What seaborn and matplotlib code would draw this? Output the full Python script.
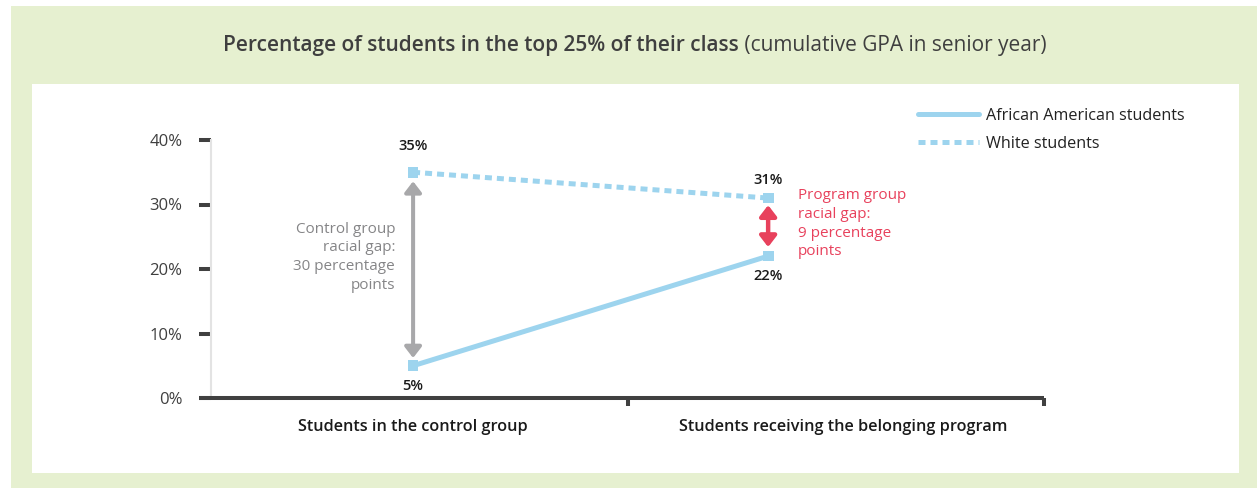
import pandas as pd
import matplotlib.pyplot as plt
import seaborn as sns
from matplotlib.patches import Rectangle

# ---- data -------------------------------------------------------------------
groups = ["Students in the control group", "Students receiving the belonging program"]
african_american = [5, 22]
white = [35, 31]
series_names = ["African American students", "White students"]
y_ticks = [0, 10, 20, 30, 40]
control_gap_text = "Control group\nracial gap:\n30 percentage\npoints"
program_gap_text = "Program group\nracial gap:\n9 percentage\npoints"

# ---- style ------------------------------------------------------------------
sns.set_theme(style="white")
plt.rcParams["font.family"] = ["Open Sans", "DejaVu Sans"]

GREEN = "#E6F0D0"
BLUE = "#9DD4EE"
RED = "#E8415C"
GRAY = "#A8A8AA"
GRAY_TXT = "#858587"
DARK = "#3F3F3F"
AXIS = "#404040"

W, H = 1257, 488
fig = plt.figure(figsize=(W / 100, H / 100), dpi=100)
fig.patch.set_facecolor("white")


def px_rect(x0, y0, x1, y1, color):
    fig.add_artist(Rectangle((x0 / W, 1 - y1 / H), (x1 - x0) / W, (y1 - y0) / H,
                             transform=fig.transFigure, facecolor=color,
                             edgecolor="none", zorder=-10))


px_rect(11, 6, W, H, GREEN)
px_rect(32, 84, 1239, 473, "white")

ax = fig.add_axes([199 / W, 1 - 398 / H, (1044 - 199) / W, (398 - 140) / H])
ax.set_facecolor("none")

# x positions: 0 = control, 1 = program (point columns)
df = pd.DataFrame({
    "x": [0, 1, 0, 1],
    "value": african_american + white,
    "series": [series_names[0]] * 2 + [series_names[1]] * 2,
})

sns.lineplot(data=df, x="x", y="value", hue="series", style="series",
             palette={n: BLUE for n in series_names},
             dashes={series_names[0]: "", series_names[1]: (1.4, 1.0)},
             linewidth=3.6, ax=ax, clip_on=False)
sns.scatterplot(data=df, x="x", y="value", color=BLUE, marker="s", s=60,
                edgecolor="none", ax=ax, zorder=5, clip_on=False, legend=False)

ax.set_xlim(-0.603, 1.777)
ax.set_ylim(0, 40)

# legend
handles, labels = ax.get_legend_handles_labels()
ax.get_legend().remove()
leg = fig.legend(handles, labels, loc="upper left", frameon=False,
                 bbox_to_anchor=(918 / W, 1 - 108 / H), borderpad=0,
                 borderaxespad=0, handlelength=3.8, handletextpad=0.4,
                 labelspacing=0.72, prop={"size": 11.6})
for t in leg.get_texts():
    t.set_color("#222222")

# axes styling
for side in ["top", "right"]:
    ax.spines[side].set_visible(False)
ax.spines["left"].set_position(("outward", -8.6))
ax.spines["left"].set_color("#E3E3E3")
ax.spines["left"].set_linewidth(1.5)
ax.spines["bottom"].set_color(AXIS)
ax.spines["bottom"].set_linewidth(2.9)
ax.spines["bottom"].set_capstyle("butt")

ax.set_yticks(y_ticks)
ax.set_yticklabels([f"{v}%" for v in y_ticks])
ax.tick_params(axis="y", left=True, direction="out", length=8.6, width=2.9, color=AXIS,
               pad=12, labelsize=12, labelcolor=DARK)

ax.set_xticks([0.606, 1.777])
ax.set_xticklabels(["", ""])
ax.tick_params(axis="x", which="major", bottom=True, direction="out", length=6,
               width=2.9, color=AXIS)
ax.set_xticks([0, 1.211], minor=True)
ax.set_xticklabels(groups, minor=True)
ax.tick_params(axis="x", which="minor", bottom=True, length=0, pad=15,
               labelsize=11.7, labelcolor="#1A1A1A")
for t in ax.get_xticklabels(minor=True):
    t.set_fontweight("semibold")
ax.set_xlabel("")
ax.set_ylabel("")

# value labels
for xi, v in zip([0, 1], african_american):
    ax.annotate(f"{v}%", (xi, v), xytext=(0, -14.5), textcoords="offset points",
                ha="center", va="center", fontsize=10.5, fontweight="semibold",
                color="#1A1A1A", annotation_clip=False)
for xi, v, off in zip([0, 1], white, [19, 13]):
    ax.annotate(f"{v}%", (xi, v), xytext=(0, off), textcoords="offset points",
                ha="center", va="center", fontsize=10.5, fontweight="semibold",
                color="#1A1A1A", annotation_clip=False)

# gap arrows
arrow_style = "<|-|>,head_length=0.65,head_width=0.5"
ax.annotate("", xy=(0, white[0] - 1.4), xytext=(0, african_american[0] + 1.2),
            arrowprops=dict(arrowstyle=arrow_style, color=GRAY, lw=2.9,
                            shrinkA=0, shrinkB=0, mutation_scale=10))
ax.annotate("", xy=(1, white[1] - 1.1), xytext=(1, african_american[1] + 1.4),
            arrowprops=dict(arrowstyle=arrow_style, color=RED, lw=3.2,
                            shrinkA=0, shrinkB=0, mutation_scale=10))

# gap annotations
ax.annotate(control_gap_text, (0, (white[0] + african_american[0]) / 2),
            xytext=(-13, 8.4), textcoords="offset points", ha="right", va="center",
            fontsize=11, color=GRAY_TXT, linespacing=1.35)
ax.annotate(program_gap_text, (1, (white[1] + african_american[1]) / 2),
            xytext=(21.6, 2.5), textcoords="offset points", ha="left", va="center",
            fontsize=11, color=RED, linespacing=1.35)

# title: bold part + regular part, centred as a group
t1 = fig.text(0, 1 - 46 / H, "Percentage of students in the top 25% of their class",
              fontsize=15, fontweight="semibold", color=DARK, va="center", ha="left")
t2 = fig.text(0, 1 - 46 / H, " (cumulative GPA in senior year)",
              fontsize=15, color=DARK, va="center", ha="left")
fig.canvas.draw()
r = fig.canvas.get_renderer()
w1 = t1.get_window_extent(r).width / W
w2 = t2.get_window_extent(r).width / W
x0 = 635 / W - (w1 + w2) / 2
t1.set_x(x0)
t2.set_x(x0 + w1)

fig.savefig("out.png", dpi=100, facecolor=fig.get_facecolor())
